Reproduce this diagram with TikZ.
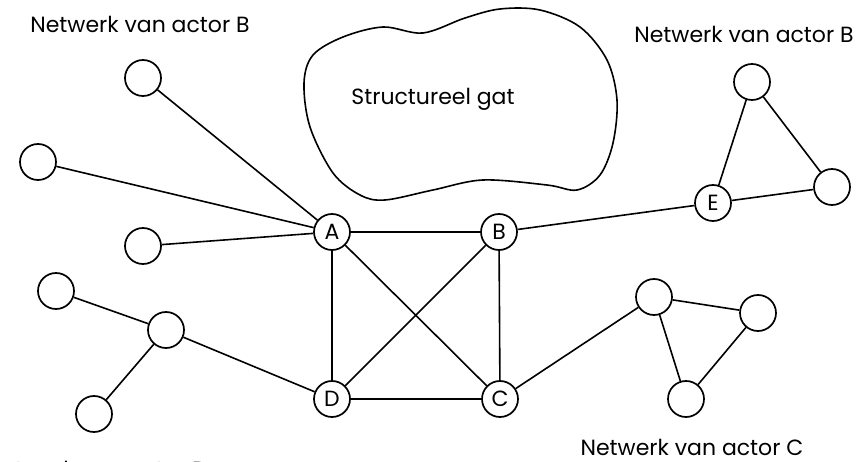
\documentclass[tikz,border=0pt]{standalone}
\usepackage{fontspec}
\setmainfont{Poppins}
\begin{document}
\begin{tikzpicture}[x=1pt,y=-1pt,
  actor/.style={circle,draw,line width=1.7pt,minimum size=36pt,inner sep=0pt,
    font=\fontsize{22}{22}\selectfont},
  tie/.style={line width=1.6pt},
  caption/.style={anchor=base,inner sep=0pt,font=\fontsize{22}{22}\selectfont}]
\useasboundingbox (0,0) rectangle (865,462);

% structural hole
\draw[line width=1.6pt] plot[smooth cycle,tension=0.55] coordinates {
  (304,83) (310,127) (333,173) (360,195) (385,200) (433,190) (483,180)
  (547,185) (577,190) (600,175) (613,143) (617,100) (607,60) (580,27)
  (540,10) (500,9) (465,18) (423,33) (383,27) (343,37) (313,55)};
\node[caption] (gap) at (433,105) {Structureel gat};

% central actors
\node[actor] (A) at (332,232) {A};
\node[actor] (B) at (499,232) {B};
\node[actor] (D) at (332,399) {D};
\node[actor] (C) at (500,399) {C};
\node[actor] (E) at (713,203) {E};

% network of A
\node[actor] (a1) at (143,78) {};
\node[actor] (a2) at (38,162) {};
\node[actor] (a3) at (143,246) {};

% network of D
\node[actor] (d1) at (56,291) {};
\node[actor] (d2) at (166,330) {};
\node[actor] (d3) at (94,414) {};

% network of E
\node[actor] (e1) at (752,82) {};
\node[actor] (e2) at (832,187) {};

% network of C
\node[actor] (c1) at (654,297) {};
\node[actor] (c2) at (758,313) {};
\node[actor] (c3) at (686,399) {};

\draw[tie] (a1) -- (A);
\draw[tie] (a2) -- (A);
\draw[tie] (a3) -- (A);
\draw[tie] (A) -- (B);
\draw[tie] (A) -- (D);
\draw[tie] (A) -- (C);
\draw[tie] (B) -- (D);
\draw[tie] (B) -- (C);
\draw[tie] (D) -- (C);
\draw[tie] (B) -- (E);
\draw[tie] (E) -- (e1);
\draw[tie] (E) -- (e2);
\draw[tie] (e1) -- (e2);
\draw[tie] (d1) -- (d2);
\draw[tie] (d2) -- (d3);
\draw[tie] (d2) -- (D);
\draw[tie] (C) -- (c1);
\draw[tie] (c1) -- (c2);
\draw[tie] (c1) -- (c3);
\draw[tie] (c2) -- (c3);

% captions
\node[caption] (capA) at (140,33) {Netwerk van actor B};
\node[caption] (capE) at (744,43) {Netwerk van actor B};
\node[caption] (capC) at (692,455) {Netwerk van actor C};
\node[caption] (capD) at (97,477) {Netwerk van actor D};
\end{tikzpicture}
\end{document}
